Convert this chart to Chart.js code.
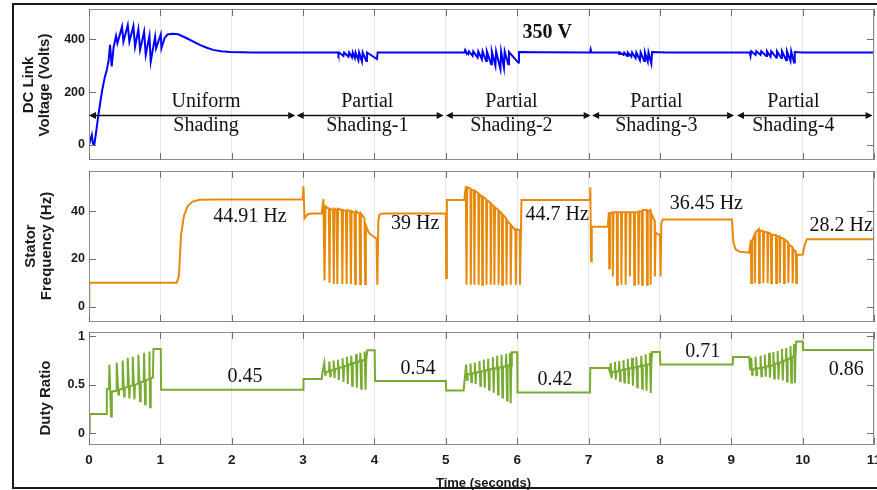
<!DOCTYPE html>
<html>
<head>
<meta charset="utf-8">
<script src="https://cdn.jsdelivr.net/npm/chart.js@4.4.1/dist/chart.umd.min.js"></script>
<style>
  html, body { margin: 0; padding: 0; background: #fff; overflow: hidden; }
  #wrap { position: relative; width: 877px; height: 490px; overflow: hidden; background: #fff; }
  #wrap canvas { position: absolute; left: 0; top: 0; }
  #frame { position: absolute; left: 12px; top: 3px; width: 900px; height: 482px;
           border: 2px solid #1a1a1a; pointer-events: none; }
</style>
</head>
<body>
<div id="wrap">
  <canvas id="cVolt" width="877" height="490"></canvas>
  <canvas id="cFreq" width="877" height="490"></canvas>
  <canvas id="cDuty" width="877" height="490"></canvas>
  <div id="frame"></div>
</div>
<script>
// ---- steady-state levels (also printed as labels) ----
const voltLevel = 350;
const freqLevels = [44.91, 39, 44.7, 36.45, 28.2];
const dutyLevels = [0.45, 0.54, 0.42, 0.71, 0.86];

// ---- tick values ----
const timeTicks = [0, 1, 2, 3, 4, 5, 6, 7, 8, 9, 10, 11];
const voltTicks = [0, 200, 400];
const freqTicks = [0, 20, 40];
const dutyTicks = [0, 0.5, 1];

// ---- shading phases ----
const phaseTitles = [['Uniform', 'Shading'], ['Partial', 'Shading-1'], ['Partial', 'Shading-2'],
                     ['Partial', 'Shading-3'], ['Partial', 'Shading-4']];
const phaseSpans = [[0, 2.89], [2.91, 4.97], [5.0, 7.03], [7.05, 9.04], [9.08, 10.98]];

// ---- DC link voltage trace [time s, volts] ----
const V = voltLevel;
const voltTrace = [
  [0, 0], [0.02, 20], [0.04, 38], [0.055, 5], [0.075, 2], [0.1, 50], [0.13, 110], [0.16, 165],
  [0.19, 215], [0.22, 255], [0.25, 285], [0.275, 320],
  [0.295, 379], [0.318, 297], [0.345, 370], [0.379, 413], [0.398, 385], [0.463, 448], [0.482, 391],
  [0.543, 454], [0.566, 391], [0.622, 450], [0.645, 372], [0.692, 438], [0.716, 360],
  [0.772, 429], [0.795, 341], [0.847, 413], [0.865, 315], [0.926, 410], [0.94, 366],
  [1.006, 419], [1.015, 366], [1.06, 405], [1.1, 418], [1.17, 421], [1.25, 419], [1.37, 404],
  [1.47, 390], [1.56, 378], [1.65, 368], [1.74, 360], [1.85, 355], [1.98, 352], [2.3, V],
  [3.49, V], [3.495, 344], [3.505, V], [3.565, 337], [3.575, V], [3.635, 334], [3.645, V],
  [3.685, 331], [3.695, V], [3.725, 329], [3.735, V], [3.775, 321], [3.785, V],
  [3.825, 316], [3.835, V], [3.885, 318], [3.895, V], [4.035, 325], [4.045, V],
  [5.26, V], [5.27, 359], [5.28, 353],
  [5.315, 344], [5.325, 354], [5.375, 337], [5.385, 354], [5.445, 331], [5.455, 354],
  [5.505, 325], [5.515, 354], [5.565, 318], [5.575, 354], [5.635, 306], [5.645, 354],
  [5.695, 300], [5.705, 354], [5.765, 287], [5.775, 354], [5.815, 293], [5.825, 354],
  [5.875, 306], [5.885, 352], [6.015, 312], [6.025, 352], [6.3, 351], [7.02, V],
  [7.03, 362], [7.04, 351],
  [7.42, V], [7.43, 344], [7.44, V], [7.49, 341], [7.50, V], [7.54, 337], [7.55, V],
  [7.60, 334], [7.61, V], [7.66, 329], [7.67, V], [7.72, 321], [7.73, V], [7.78, 318], [7.79, V],
  [7.83, 316], [7.84, V], [7.88, 308], [7.89, 352], [8.1, V],
  [9.26, V], [9.27, 337], [9.28, 355], [9.34, 341], [9.35, 355], [9.41, 341], [9.42, 355],
  [9.49, 337], [9.50, 355], [9.55, 334], [9.56, 355], [9.63, 331], [9.64, 355],
  [9.70, 329], [9.71, 355], [9.77, 321], [9.78, 355], [9.83, 318], [9.84, 355],
  [9.88, 312], [9.89, 352], [10.0, V], [11, V]
];

// ---- stator frequency trace [time s, Hz] ----
const F = freqLevels;
const freqTrace = [
  [0, 0], [0.005, 10], [1.23, 10], [1.26, 13], [1.29, 30], [1.33, 38], [1.38, 42], [1.45, 44],
  [1.55, 44.8], [1.8, F[0]], [2.995, F[0]],
  [3.005, 50.4], [3.02, 37], [3.06, 38.6], [3.12, F[1]], [3.26, F[1]],
  [3.285, 45], [3.30, 11], [3.315, 42], [3.36, 41], [3.37, 10], [3.38, 41], [3.42, 40.5], [3.43, 9.5],
  [3.44, 41], [3.47, 40.5], [3.48, 9.5], [3.49, 41], [3.54, 40.5], [3.55, 9.5], [3.56, 40.5],
  [3.60, 40], [3.61, 9.5], [3.62, 40.5], [3.66, 40], [3.67, 9.5], [3.68, 40], [3.72, 39.5],
  [3.73, 9.5], [3.74, 40], [3.79, 39], [3.80, 9.5], [3.81, 39], [3.86, 37], [3.87, 9.5],
  [3.88, 34], [3.92, 31], [3.98, 29.5], [4.03, 28.5], [4.04, 9.2], [4.055, 36], [4.07, 38.6],
  [4.12, F[1]], [5.0, F[1]],
  [5.005, 12], [5.015, F[2]], [5.26, F[2]],
  [5.28, 50.4], [5.29, 9.2], [5.30, 50], [5.345, 49.5], [5.35, 9.2], [5.36, 49], [5.395, 48.5],
  [5.40, 9.2], [5.41, 48.5], [5.455, 47.5], [5.46, 9.2], [5.47, 47], [5.505, 46], [5.51, 9.2],
  [5.52, 46], [5.565, 45], [5.57, 9.2], [5.58, 44.5], [5.625, 43.5], [5.63, 9.2], [5.64, 43],
  [5.675, 42], [5.68, 9.2], [5.69, 41.5], [5.735, 40.5], [5.74, 9.2], [5.75, 40], [5.785, 39],
  [5.79, 9.2], [5.80, 38.5], [5.845, 37], [5.85, 9.2], [5.86, 36], [5.905, 34.5], [5.91, 9.2],
  [5.92, 34], [5.975, 32], [5.98, 9.2], [5.99, 32.5], [6.035, 32], [6.04, 9.2], [6.06, F[2]],
  [7.02, F[2]],
  [7.025, 50], [7.035, 19], [7.045, 33.5], [7.27, 33.5],
  [7.285, 39.5], [7.29, 16], [7.30, 39], [7.335, 39.5], [7.34, 12.6], [7.35, 39.5], [7.395, 39.5],
  [7.40, 9.2], [7.41, 39.5], [7.455, 39.5], [7.46, 9.2], [7.47, 39.5], [7.515, 39.5], [7.52, 9.2],
  [7.53, 39.5], [7.575, 39.5], [7.58, 12.6], [7.59, 39.5], [7.635, 39.5], [7.64, 9.2], [7.65, 39.5],
  [7.695, 39.5], [7.70, 9.2], [7.71, 40], [7.745, 40], [7.75, 9.2], [7.76, 40.5], [7.815, 40.5],
  [7.82, 9.2], [7.83, 40], [7.865, 40.5], [7.87, 9.2], [7.88, 39], [7.925, 36], [7.93, 12.6],
  [7.94, 31], [8.0, 30], [8.01, 12.6], [8.02, 35], [8.04, F[3]], [9.01, F[3]],
  [9.03, 27], [9.06, 24], [9.12, 23], [9.25, 22.6],
  [9.275, 28], [9.28, 9.9], [9.29, 27.5], [9.325, 30], [9.33, 9.9], [9.34, 31], [9.385, 32.5],
  [9.39, 9.9], [9.40, 32], [9.445, 31.5], [9.45, 9.9], [9.46, 31.5], [9.505, 31], [9.51, 9.9],
  [9.52, 31], [9.555, 30.5], [9.56, 9.9], [9.57, 30], [9.625, 30], [9.63, 9.9], [9.64, 29.5],
  [9.675, 29.5], [9.68, 9.9], [9.69, 29], [9.735, 28.5], [9.74, 9.9], [9.75, 28], [9.795, 27],
  [9.80, 9.9], [9.81, 26], [9.855, 25], [9.86, 9.9], [9.87, 24], [9.905, 23], [9.91, 9.9],
  [9.92, 21.7], [10.0, 21.7], [10.03, 26], [10.06, F[4]], [11, F[4]]
];

// ---- duty ratio trace [time s, ratio] ----
const D = dutyLevels;
const dutyTrace = [
  [0, 0], [0.01, 0.2], [0.248, 0.2], [0.25, 0.457], [0.28, 0.457], [0.285, 0.71], [0.309, 0.175],
  [0.32, 0.43], [0.383, 0.44], [0.388, 0.73], [0.412, 0.40], [0.42, 0.45],
  [0.467, 0.46], [0.472, 0.75], [0.491, 0.38], [0.50, 0.467],
  [0.538, 0.48], [0.543, 0.78], [0.566, 0.36], [0.575, 0.485],
  [0.608, 0.495], [0.613, 0.79], [0.636, 0.35], [0.645, 0.50],
  [0.687, 0.515], [0.692, 0.81], [0.716, 0.33], [0.725, 0.526],
  [0.767, 0.535], [0.772, 0.83], [0.786, 0.30], [0.795, 0.546],
  [0.842, 0.56], [0.847, 0.845], [0.856, 0.27], [0.865, 0.57],
  [0.895, 0.575], [0.903, 0.87], [1.006, 0.87], [1.01, D[0]], [3.0, D[0]],
  [3.005, 0.56], [3.26, 0.56], [3.27, 0.62],
  [3.297, 0.725], [3.309, 0.605], [3.317, 0.635],
  [3.363, 0.635], [3.368, 0.74], [3.38, 0.59], [3.388, 0.65],
  [3.423, 0.65], [3.428, 0.75], [3.44, 0.57], [3.448, 0.665],
  [3.484, 0.665], [3.489, 0.76], [3.501, 0.55], [3.509, 0.68],
  [3.549, 0.68], [3.554, 0.775], [3.566, 0.53], [3.574, 0.695],
  [3.61, 0.695], [3.615, 0.79], [3.627, 0.51], [3.635, 0.71],
  [3.671, 0.71], [3.676, 0.80], [3.688, 0.49], [3.696, 0.725],
  [3.737, 0.725], [3.742, 0.815], [3.754, 0.47], [3.762, 0.74],
  [3.797, 0.74], [3.802, 0.83], [3.814, 0.46], [3.822, 0.755],
  [3.858, 0.755], [3.863, 0.845], [3.875, 0.45], [3.885, 0.76],
  [3.90, 0.856], [4.003, 0.856], [4.008, D[1]], [5.0, D[1]],
  [5.005, 0.443], [5.25, 0.443], [5.27, 0.60],
  [5.285, 0.71], [5.297, 0.55], [5.305, 0.61],
  [5.341, 0.61], [5.346, 0.72], [5.358, 0.53], [5.366, 0.62],
  [5.401, 0.62], [5.406, 0.73], [5.418, 0.51], [5.426, 0.63],
  [5.467, 0.63], [5.472, 0.745], [5.484, 0.49], [5.492, 0.64],
  [5.528, 0.64], [5.533, 0.76], [5.545, 0.47], [5.553, 0.65],
  [5.589, 0.65], [5.594, 0.77], [5.606, 0.45], [5.614, 0.66],
  [5.654, 0.66], [5.659, 0.785], [5.671, 0.42], [5.679, 0.67],
  [5.715, 0.67], [5.72, 0.80], [5.732, 0.40], [5.74, 0.68],
  [5.776, 0.68], [5.781, 0.81], [5.793, 0.37], [5.801, 0.69],
  [5.841, 0.69], [5.846, 0.82], [5.858, 0.34], [5.866, 0.70],
  [5.892, 0.70], [5.897, 0.83], [5.909, 0.31], [5.917, 0.70],
  [5.925, 0.835], [6.0, 0.835], [6.005, D[2]], [7.02, D[2]],
  [7.025, 0.674], [7.28, 0.674], [7.30, 0.63],
  [7.31, 0.725], [7.322, 0.57], [7.33, 0.635],
  [7.365, 0.635], [7.37, 0.735], [7.382, 0.555], [7.39, 0.64],
  [7.425, 0.64], [7.43, 0.745], [7.442, 0.54], [7.45, 0.65],
  [7.485, 0.65], [7.49, 0.755], [7.502, 0.525], [7.51, 0.66],
  [7.545, 0.66], [7.55, 0.77], [7.562, 0.51], [7.57, 0.67],
  [7.605, 0.67], [7.61, 0.78], [7.622, 0.49], [7.63, 0.68],
  [7.665, 0.68], [7.67, 0.79], [7.682, 0.475], [7.69, 0.69],
  [7.735, 0.69], [7.74, 0.80], [7.752, 0.46], [7.76, 0.70],
  [7.795, 0.70], [7.80, 0.815], [7.812, 0.44], [7.82, 0.71],
  [7.855, 0.71], [7.86, 0.83], [7.872, 0.416], [7.88, 0.72],
  [7.89, 0.838], [8.0, 0.838], [8.005, D[3]], [9.02, D[3]],
  [9.025, 0.787], [9.25, 0.787], [9.265, 0.65],
  [9.28, 0.78], [9.292, 0.605], [9.30, 0.66],
  [9.335, 0.66], [9.34, 0.79], [9.352, 0.60], [9.36, 0.67],
  [9.405, 0.67], [9.41, 0.80], [9.422, 0.59], [9.43, 0.68],
  [9.465, 0.68], [9.47, 0.81], [9.482, 0.585], [9.49, 0.69],
  [9.525, 0.69], [9.53, 0.83], [9.542, 0.575], [9.55, 0.70],
  [9.585, 0.70], [9.59, 0.84], [9.602, 0.565], [9.61, 0.72],
  [9.645, 0.72], [9.65, 0.85], [9.662, 0.555], [9.67, 0.73],
  [9.705, 0.73], [9.71, 0.87], [9.722, 0.545], [9.73, 0.75],
  [9.765, 0.75], [9.77, 0.88], [9.782, 0.535], [9.79, 0.77],
  [9.825, 0.77], [9.83, 0.90], [9.842, 0.525], [9.85, 0.79],
  [9.875, 0.79], [9.88, 0.92], [9.892, 0.52], [9.90, 0.80],
  [9.91, 0.948], [10.0, 0.948], [10.005, D[4]], [11, D[4]]
];

// ---- label anchors in data units [time, value at text baseline] ----
const phaseLabelTimes = [1.64, 3.90, 5.92, 7.95, 9.87];
const phaseLabelLevels = [145, 54];
const phaseArrowLevel = 113.6;
const voltLabelAt = [6.42, 406];
const freqLabelAt = [[2.255, 35.5], [4.57, 32.5], [6.56, 36.5], [8.65, 40.8], [10.54, 31.7]];
const dutyLabelAt = [[2.185, 0.526], [4.61, 0.615], [6.53, 0.502], [8.6, 0.788], [10.61, 0.605]];

// ---- drawing helpers ----
const W = 877, H = 490;
const SANS = '"Liberation Sans", Arial, Helvetica, sans-serif';
const SERIF = '"Liberation Serif", "Times New Roman", serif';
const INK = '#1a1a1a';

const boxMarks = {
  id: 'boxMarks',
  afterDatasetsDraw(chart) {
    const { ctx, chartArea: a, scales: { x, y } } = chart;
    ctx.save();
    ctx.lineWidth = 1;
    ctx.strokeStyle = '#8c8c8c';
    ctx.strokeRect(a.left + 0.5, a.top + 0.5, a.right - a.left - 1, a.bottom - a.top - 1);
    ctx.strokeStyle = '#6f6f6f';
    ctx.beginPath();
    x.ticks.forEach(t => {
      const px = Math.round(x.getPixelForValue(t.value)) + 0.5;
      ctx.moveTo(px, a.top); ctx.lineTo(px, a.top + 7);
      ctx.moveTo(px, a.bottom); ctx.lineTo(px, a.bottom - 7);
    });
    y.ticks.forEach(t => {
      const py = Math.round(y.getPixelForValue(t.value)) + 0.5;
      ctx.moveTo(a.left, py); ctx.lineTo(a.left + 7, py);
      ctx.moveTo(a.right, py); ctx.lineTo(a.right - 7, py);
    });
    ctx.stroke();
    ctx.restore();
  }
};

function drawRotatedTitle(ctx, lines, xs, cy) {
  ctx.save();
  ctx.font = 'bold 15px ' + SANS;
  ctx.fillStyle = INK;
  ctx.textAlign = 'center';
  ctx.textBaseline = 'middle';
  lines.forEach((line, i) => {
    ctx.save();
    ctx.translate(xs[i], cy);
    ctx.rotate(-Math.PI / 2);
    ctx.fillText(line, 0, 0);
    ctx.restore();
  });
  ctx.restore();
}

function drawNote(chart, text, t, v, font) {
  const { ctx, scales: { x, y } } = chart;
  ctx.save();
  ctx.font = font;
  ctx.fillStyle = '#111';
  ctx.textAlign = 'center';
  ctx.textBaseline = 'alphabetic';
  ctx.fillText(text, x.getPixelForValue(t), y.getPixelForValue(v));
  ctx.restore();
}

function drawArrow(ctx, x1, x2, y) {
  ctx.save();
  ctx.strokeStyle = '#111';
  ctx.fillStyle = '#111';
  ctx.lineWidth = 1.3;
  ctx.beginPath();
  ctx.moveTo(x1 + 4, y); ctx.lineTo(x2 - 4, y);
  ctx.stroke();
  ctx.beginPath();
  ctx.moveTo(x1, y); ctx.lineTo(x1 + 7, y - 3.5); ctx.lineTo(x1 + 7, y + 3.5); ctx.closePath();
  ctx.moveTo(x2, y); ctx.lineTo(x2 - 7, y - 3.5); ctx.lineTo(x2 - 7, y + 3.5); ctx.closePath();
  ctx.fill();
  ctx.restore();
}

const voltNotes = {
  id: 'voltNotes',
  afterDraw(chart) {
    const { ctx, scales: { x, y } } = chart;
    const ay = Math.round(y.getPixelForValue(phaseArrowLevel)) + 0.5;
    phaseSpans.forEach(([t1, t2]) => drawArrow(ctx, x.getPixelForValue(t1), x.getPixelForValue(t2), ay));
    phaseTitles.forEach((pair, i) => {
      pair.forEach((txt, j) => drawNote(chart, txt, phaseLabelTimes[i], phaseLabelLevels[j], '20px ' + SERIF));
    });
    drawNote(chart, voltLevel + ' V', voltLabelAt[0], voltLabelAt[1], 'bold 20px ' + SERIF);
    drawRotatedTitle(ctx, ['DC Link', 'Voltage (Volts)'], [29, 45], 85);
  }
};

const freqNotes = {
  id: 'freqNotes',
  afterDraw(chart) {
    freqLevels.forEach((v, i) => drawNote(chart, v + ' Hz', freqLabelAt[i][0], freqLabelAt[i][1], '20px ' + SERIF));
    drawRotatedTitle(chart.ctx, ['Stator', 'Frequency (Hz)'], [30.5, 46.5], 246);
  }
};

const dutyNotes = {
  id: 'dutyNotes',
  afterDraw(chart) {
    const { ctx, chartArea: a } = chart;
    dutyLevels.forEach((v, i) => drawNote(chart, String(v), dutyLabelAt[i][0], dutyLabelAt[i][1], '20px ' + SERIF));
    drawRotatedTitle(ctx, ['Duty Ratio'], [45.5], 398);
    ctx.save();
    ctx.font = 'bold 13px ' + SANS;
    ctx.fillStyle = INK;
    ctx.textAlign = 'center';
    ctx.textBaseline = 'alphabetic';
    ctx.fillText('Time (seconds)', (a.left + a.right) / 2 + 2, 486.5);
    ctx.restore();
  }
};

// one stacked panel, sharing the same time axis
function makePanel(id, trace, color, yMin, yMax, yTicks, area, bottomAxis, notes) {
  return new Chart(document.getElementById(id), {
    type: 'line',
    data: {
      datasets: [{
        data: trace.map(([t, v]) => ({ x: t, y: v })),
        borderColor: color,
        borderWidth: 2,
        pointRadius: 0,
        tension: 0,
        fill: false
      }]
    },
    options: {
      responsive: false,
      animation: false,
      events: [],
      layout: { padding: { left: 0, right: W - area.right, top: area.top, bottom: bottomAxis ? 0 : H - area.bottom } },
      plugins: { legend: { display: false }, tooltip: { enabled: false } },
      scales: {
        x: {
          type: 'linear', min: 0, max: 11,
          afterBuildTicks: s => { s.ticks = timeTicks.map(v => ({ value: v })); },
          afterFit: s => { s.height = bottomAxis ? H - area.bottom : 0; s.paddingLeft = 0; s.paddingRight = 0; },
          grid: { color: '#e6e6e6', lineWidth: 1, drawTicks: false },
          border: { display: false },
          ticks: {
            display: bottomAxis, padding: 7, color: INK, maxRotation: 0, autoSkip: false,
            font: { family: SANS, size: 13.5, weight: 'bold' },
            callback: v => String(v)
          }
        },
        y: {
          type: 'linear', min: yMin, max: yMax,
          afterBuildTicks: s => { s.ticks = yTicks.map(v => ({ value: v })); },
          afterFit: s => { s.width = area.left; s.paddingTop = 0; s.paddingBottom = 0; },
          grid: { display: false, drawTicks: false },
          border: { display: false },
          ticks: {
            padding: 4, color: INK,
            font: { family: SANS, size: 12.5, weight: 'bold' },
            callback: v => String(v)
          }
        }
      }
    },
    plugins: [boxMarks, notes]
  });
}

makePanel('cVolt', voltTrace, '#0000ff', -56.8, 514.7, voltTicks,
          { left: 89, right: 874, top: 9, bottom: 160 }, false, voltNotes);
makePanel('cFreq', freqTrace, '#e8890c', -6.4, 56.8, freqTicks,
          { left: 89, right: 874, top: 171, bottom: 322 }, false, freqNotes);
makePanel('cDuty', dutyTrace, '#77ac30', -0.12, 1.045, dutyTicks,
          { left: 89, right: 874, top: 332, bottom: 445 }, true, dutyNotes);
</script>
</body>
</html>
